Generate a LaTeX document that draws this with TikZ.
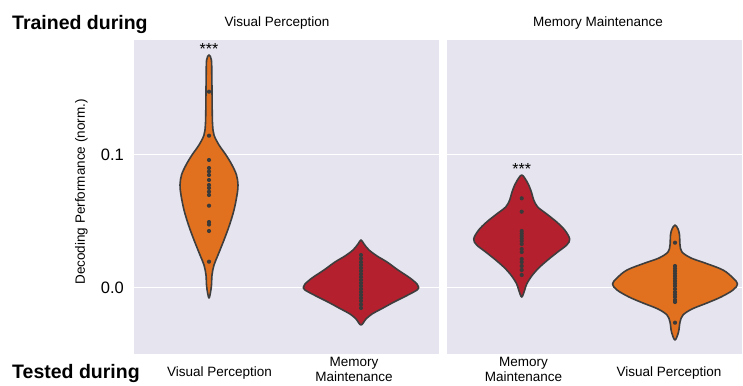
\documentclass[tikz,border=0pt]{standalone}
\usepackage{fontspec}
\setmainfont{Liberation Sans}
\definecolor{panelbg}{RGB}{229,228,239}
\definecolor{vorange}{RGB}{225,113,30}
\definecolor{vred}{RGB}{181,32,46}
\definecolor{vedge}{RGB}{62,62,62}
\definecolor{vdot}{RGB}{58,58,58}
\newcommand\mkviolin[2]{%
  \gdef\vR{}\gdef\vL{}%
  \foreach \yy/\ww in {#2}{%
    \pgfmathsetmacro\xr{#1+\ww}\pgfmathsetmacro\xl{#1-\ww}%
    \xdef\vR{\vR (\xr,\yy)}%
    \xdef\vL{(\xl,\yy) \vL}%
  }%
}
\newcommand\drawviolin[5]{% color, cx, top, bottom, list
  \mkviolin{#2}{#5}%
  \edef\tmpcmd{\noexpand\filldraw[violin,fill=#1] plot[smooth cycle,tension=0.55] coordinates {(#2,#3) \vR\space (#2,#4) \vL};}%
  \tmpcmd
}
\newcommand\drawdots[2]{%
  \foreach \yy in {#2}{\fill[vdot] (#1,\yy) circle (2.1);}%
}
\begin{document}
\begin{tikzpicture}[x=1pt,y=-1pt,
  violin/.style={draw=vedge,line width=1.6pt,line join=round},
  bigtxt/.style={font=\fontsize{19.5}{22}\selectfont\bfseries,inner sep=0pt},
  cattxt/.style={font=\fontsize{13.5}{15.5}\selectfont,inner sep=0pt,align=center},
  ticktxt/.style={font=\fontsize{16.5}{18}\selectfont,inner sep=0pt,anchor=east},
  startxt/.style={font=\fontsize{16}{17}\selectfont,inner sep=0pt}]
\useasboundingbox (0,0) rectangle (743,385);
\fill[white] (0,0) rectangle (743,385);
% panels
\fill[panelbg] (134,40) rectangle (439,354);
\fill[panelbg] (447,40) rectangle (742,354);
% grid lines
\foreach \gy in {154,287}{
  \draw[white,line width=0.9pt] (134,\gy) -- (439,\gy);
  \draw[white,line width=0.9pt] (447,\gy) -- (742,\gy);
}
% violin 1
\drawviolin{vorange}{209}{55}{298}{60/2.4,75/2.8,90/3,110/3.2,125/3.6,135/5,145/10,155/17,165/23,175/27.5,185/29,195/28,210/25,225/20.5,240/15,255/9,265/5,275/3,287/2.3}
\drawdots{209}{91.7,135.7,160,168,171.5,175,180,185,188,191.7,195,205.7,222,224.5,231,261.7}
% violin 2
\drawviolin{vred}{361}{240}{325}{244/3,250/8,256/16,262/26,270/37,278/49,284/56,287/57.5,290/56,296/45,302/33,308/22,314/11,319/5}
\drawdots{361}{255,258.5,262,265,268,271,274,277,280,283,286,289,292,295,298,301,304.5,308}
% violin 3
\drawviolin{vred}{521.7}{175}{297}{178/3,185/7,193/10,200/12,207/16,214/25,222/35,230/43,239/48,245/45,252/36,260/26,268/17,276/10,284/5,290/3}
\drawdots{521.7}{198.3,211.7,231,233.5,236,238.5,241,244,249,252,259,262,266,270,275}
% violin 4
\drawviolin{vorange}{675}{225}{340}{229/3,235/4.5,245/5,252/7,258/16,263/30,270/48,278/58,284/62.5,290/58,297/46,303/32,309/17,315/8,322/5,332/3.5}
\drawdots{675}{242.7,266,268.5,271,273.5,276,278.5,281,283.5,286,289,292,294.5,297,300,302,322.7}
% stars
\node[startxt] (s1) at (209,49) {***};
\node[startxt] (s3) at (521.7,169) {***};
% titles
\node[bigtxt,anchor=west] (trained) at (12,25) {Trained during};
\node[bigtxt,anchor=west] (tested) at (12,373) {Tested during};
\node[cattxt] (t1) at (277,23) {Visual Perception};
\node[cattxt] (t2) at (598,23) {Memory Maintenance};
\node[cattxt] (b1) at (219.5,373) {Visual Perception};
\node[cattxt,font=\fontsize{13.5}{15}\selectfont] (b2) at (354,369.5) {Memory\\Maintenance};
\node[cattxt,font=\fontsize{13.5}{15}\selectfont] (b3) at (523.5,369.5) {Memory\\Maintenance};
\node[cattxt] (b4) at (669,373) {Visual Perception};
% ticks
\node[ticktxt] (y1) at (124,155) {0.1};
\node[ticktxt] (y0) at (124,288) {0.0};
\node[cattxt,rotate=90] (ylab) at (81.5,192) {Decoding Performance (norm.)};
\end{tikzpicture}
\end{document}
